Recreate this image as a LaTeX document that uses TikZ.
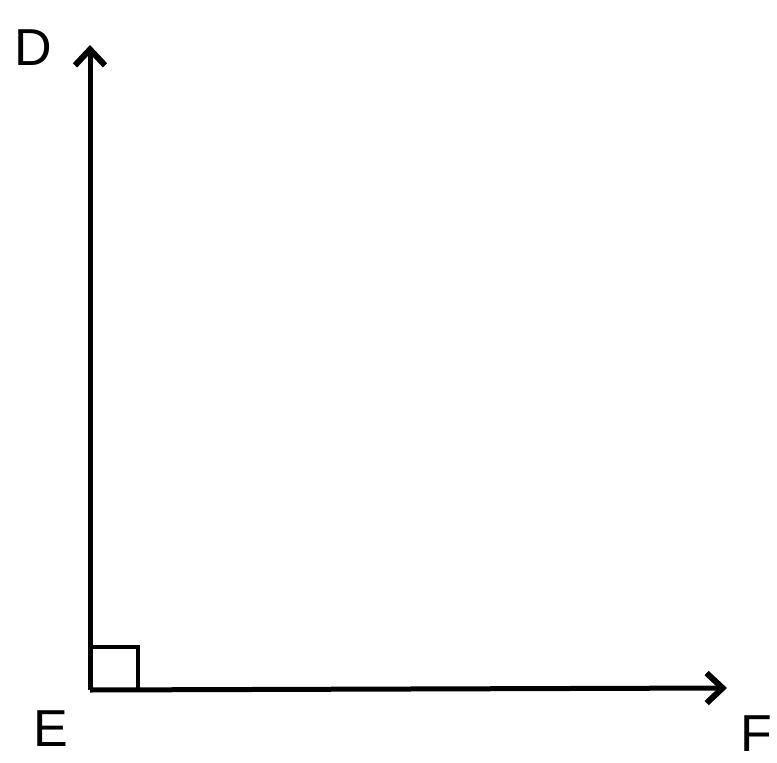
\documentclass[tikz,border=0pt]{standalone}
\usepackage{fontspec}
\setmainfont{Liberation Sans}
\usetikzlibrary{arrows.meta}
\begin{document}
\begin{tikzpicture}[x=1pt,y=-1pt,
  ray/.style={line width=5pt,-{Straight Barb[length=16pt,width=30pt,line width=6pt]}},
  lbl/.style={font=\fontsize{52}{52}\selectfont,inner sep=0pt}]
\useasboundingbox (0,0) rectangle (777,763);
\coordinate (E) at (90,690);
\coordinate (D) at (90,45);
\coordinate (F) at (727,688);
\draw[ray] (E) -- (D);
\draw[ray] (E) -- (F);
\draw[line width=4pt] (90,647) -| (138,690);
\node[lbl] (lD) at (33,48) {D};
\node[lbl] (lE) at (51,729) {E};
\node[lbl] (lF) at (756,734) {F};
\end{tikzpicture}
\end{document}
